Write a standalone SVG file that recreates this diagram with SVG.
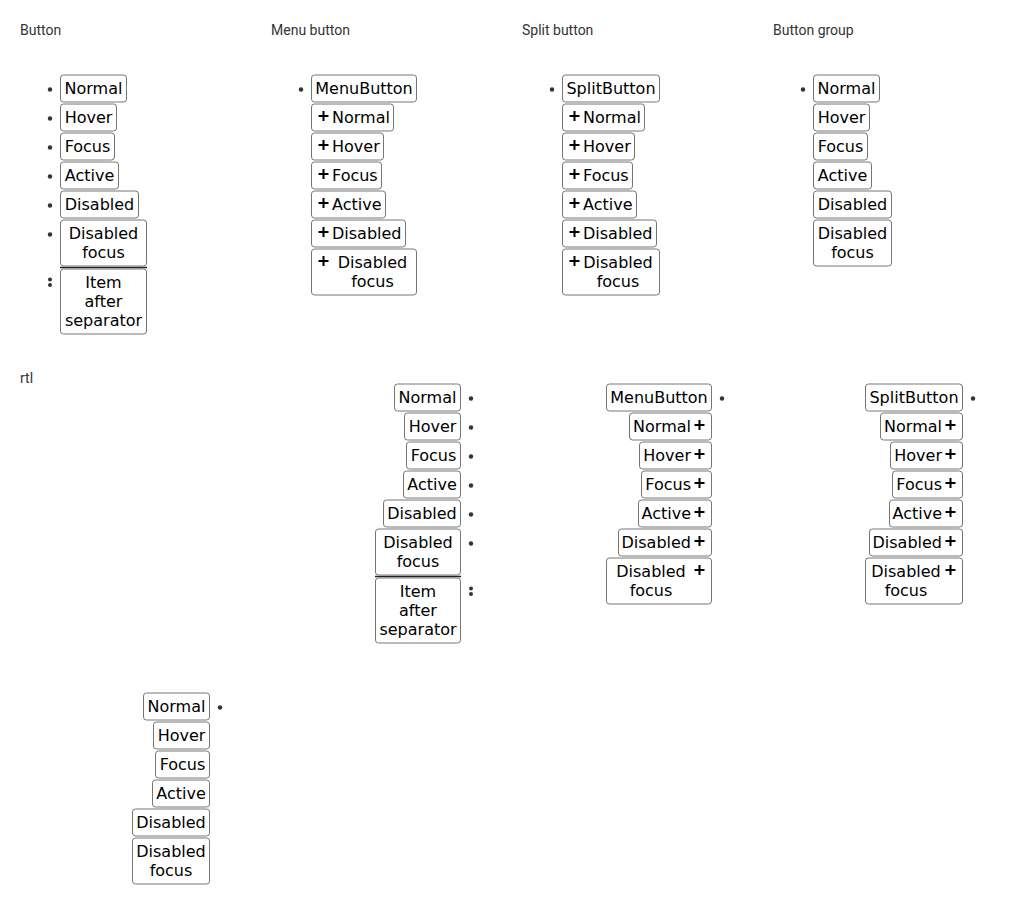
<svg xmlns="http://www.w3.org/2000/svg" xmlns:xlink="http://www.w3.org/1999/xlink" width="1024" height="919" viewBox="0 0 1024 919">
<style>
.h{font-family:Roboto,"Liberation Sans",sans-serif;font-size:14px;fill:#333}
.n rect{fill:#fff;stroke:#767676;stroke-width:1}
.t{font-family:"DejaVu Sans",sans-serif;font-size:16px;fill:#000;text-anchor:middle}
.ts{font-family:"DejaVu Sans",sans-serif;font-size:16px;fill:#000;text-anchor:start}
.te{font-family:"DejaVu Sans",sans-serif;font-size:16px;fill:#000;text-anchor:end}
.dot{fill:#333}
.sep{stroke:#222;stroke-width:1.6}
</style>
<defs>
<path id="plus" d="M-5 0H5M0 -5V5" stroke="#000" stroke-width="2" fill="none"/>
<circle id="b" r="2.2" class="dot"/>
<circle id="b2" r="2" class="dot"/>
</defs>
<rect width="1024" height="919" fill="#fff"/>

<g id="headings">
<text class="h" x="20" y="35">Button</text>
<text class="h" x="271" y="35">Menu button</text>
<text class="h" x="522" y="35">Split button</text>
<text class="h" x="773" y="35">Button group</text>
<text class="h" x="20" y="383">rtl</text>
</g>

<g id="bullets">
<use href="#b" x="50" y="89.5"/><use href="#b" x="50" y="118.5"/><use href="#b" x="50" y="147.5"/>
<use href="#b" x="50" y="176.5"/><use href="#b" x="50" y="205.5"/><use href="#b" x="50" y="234.5"/>
<use href="#b2" x="50" y="279.5"/><use href="#b2" x="50" y="285"/>
<use href="#b" x="301" y="89.5"/>
<use href="#b" x="552" y="89.5"/>
<use href="#b" x="803" y="89.5"/>
<use href="#b" x="471" y="398.5"/><use href="#b" x="471" y="427.5"/><use href="#b" x="471" y="456.5"/>
<use href="#b" x="471" y="485.5"/><use href="#b" x="471" y="514.5"/><use href="#b" x="471" y="543.5"/>
<use href="#b2" x="471" y="588.5"/><use href="#b2" x="471" y="594"/>
<use href="#b" x="722" y="398.5"/>
<use href="#b" x="973" y="398.5"/>
<use href="#b" x="220" y="707.5"/>
</g>

<g id="connectors">
<line class="sep" x1="60" y1="267.5" x2="147" y2="267.5"/>
<line class="sep" x1="375" y1="576.5" x2="461" y2="576.5"/>
</g>

<!-- Button column -->
<g id="btn-normal" class="n"><rect x="60.5" y="75" width="66" height="27" rx="3"/><text class="t" x="93.5" y="94">Normal</text></g>
<g id="btn-hover" class="n"><rect x="60.5" y="104" width="56" height="27" rx="3"/><text class="t" x="88.5" y="123">Hover</text></g>
<g id="btn-focus" class="n"><rect x="60.5" y="133" width="54" height="27" rx="3"/><text class="t" x="87.5" y="152">Focus</text></g>
<g id="btn-active" class="n"><rect x="60.5" y="162" width="58" height="27" rx="3"/><text class="t" x="89.5" y="181">Active</text></g>
<g id="btn-disabled" class="n"><rect x="60.5" y="191" width="78" height="27" rx="3"/><text class="t" x="99.5" y="210">Disabled</text></g>
<g id="btn-disabled-focus" class="n"><rect x="60.5" y="220" width="86" height="46" rx="3"/><text class="t" x="103.5" y="239">Disabled</text><text class="t" x="103.5" y="258">focus</text></g>
<g id="btn-item-after-sep" class="n"><rect x="60.5" y="269" width="86" height="65" rx="3"/><text class="t" x="103.5" y="288">Item</text><text class="t" x="103.5" y="307">after</text><text class="t" x="103.5" y="326">separator</text></g>

<!-- Menu button column -->
<g id="mb-main" class="n"><rect x="311.5" y="75" width="105" height="27" rx="3"/><text class="t" x="364" y="94">MenuButton</text></g>
<g id="mb-normal" class="n"><rect x="311.5" y="104" width="82" height="27" rx="3"/><use href="#plus" x="323.5" y="116"/><text class="ts" x="332" y="123">Normal</text></g>
<g id="mb-hover" class="n"><rect x="311.5" y="133" width="72" height="27" rx="3"/><use href="#plus" x="323.5" y="145"/><text class="ts" x="332" y="152">Hover</text></g>
<g id="mb-focus" class="n"><rect x="311.5" y="162" width="70" height="27" rx="3"/><use href="#plus" x="323.5" y="174"/><text class="ts" x="332" y="181">Focus</text></g>
<g id="mb-active" class="n"><rect x="311.5" y="191" width="74" height="27" rx="3"/><use href="#plus" x="323.5" y="203"/><text class="ts" x="332" y="210">Active</text></g>
<g id="mb-disabled" class="n"><rect x="311.5" y="220" width="94" height="27" rx="3"/><use href="#plus" x="323.5" y="232"/><text class="ts" x="332" y="239">Disabled</text></g>
<g id="mb-disabled-focus" class="n"><rect x="311.5" y="249" width="105" height="46" rx="3"/><use href="#plus" x="323.5" y="261"/><text class="t" x="372.5" y="268">Disabled</text><text class="t" x="372.5" y="287">focus</text></g>

<!-- Split button column -->
<g id="sb-main" class="n"><rect x="562.5" y="75" width="97" height="27" rx="3"/><text class="t" x="611" y="94">SplitButton</text></g>
<g id="sb-normal" class="n"><rect x="562.5" y="104" width="82" height="27" rx="3"/><use href="#plus" x="574.5" y="116"/><text class="ts" x="583" y="123">Normal</text></g>
<g id="sb-hover" class="n"><rect x="562.5" y="133" width="72" height="27" rx="3"/><use href="#plus" x="574.5" y="145"/><text class="ts" x="583" y="152">Hover</text></g>
<g id="sb-focus" class="n"><rect x="562.5" y="162" width="70" height="27" rx="3"/><use href="#plus" x="574.5" y="174"/><text class="ts" x="583" y="181">Focus</text></g>
<g id="sb-active" class="n"><rect x="562.5" y="191" width="74" height="27" rx="3"/><use href="#plus" x="574.5" y="203"/><text class="ts" x="583" y="210">Active</text></g>
<g id="sb-disabled" class="n"><rect x="562.5" y="220" width="94" height="27" rx="3"/><use href="#plus" x="574.5" y="232"/><text class="ts" x="583" y="239">Disabled</text></g>
<g id="sb-disabled-focus" class="n"><rect x="562.5" y="249" width="97" height="46" rx="3"/><use href="#plus" x="574.5" y="261"/><text class="t" x="618" y="268">Disabled</text><text class="t" x="618" y="287">focus</text></g>

<!-- Button group column -->
<g id="bg-normal" class="n"><rect x="813.5" y="75" width="66" height="27" rx="3"/><text class="t" x="846.5" y="94">Normal</text></g>
<g id="bg-hover" class="n"><rect x="813.5" y="104" width="56" height="27" rx="3"/><text class="t" x="841.5" y="123">Hover</text></g>
<g id="bg-focus" class="n"><rect x="813.5" y="133" width="54" height="27" rx="3"/><text class="t" x="840.5" y="152">Focus</text></g>
<g id="bg-active" class="n"><rect x="813.5" y="162" width="58" height="27" rx="3"/><text class="t" x="842.5" y="181">Active</text></g>
<g id="bg-disabled" class="n"><rect x="813.5" y="191" width="78" height="27" rx="3"/><text class="t" x="852.5" y="210">Disabled</text></g>
<g id="bg-disabled-focus" class="n"><rect x="813.5" y="220" width="78" height="46" rx="3"/><text class="t" x="852.5" y="239">Disabled</text><text class="t" x="852.5" y="258">focus</text></g>

<!-- RTL Button -->
<g id="rtl-btn-normal" class="n"><rect x="394.5" y="384" width="66" height="27" rx="3"/><text class="t" x="427.5" y="403">Normal</text></g>
<g id="rtl-btn-hover" class="n"><rect x="404.5" y="413" width="56" height="27" rx="3"/><text class="t" x="432.5" y="432">Hover</text></g>
<g id="rtl-btn-focus" class="n"><rect x="406.5" y="442" width="54" height="27" rx="3"/><text class="t" x="433.5" y="461">Focus</text></g>
<g id="rtl-btn-active" class="n"><rect x="403.5" y="471" width="57" height="27" rx="3"/><text class="t" x="432" y="490">Active</text></g>
<g id="rtl-btn-disabled" class="n"><rect x="383.5" y="500" width="77" height="27" rx="3"/><text class="t" x="422" y="519">Disabled</text></g>
<g id="rtl-btn-disabled-focus" class="n"><rect x="375.5" y="529" width="85" height="46" rx="3"/><text class="t" x="418" y="548">Disabled</text><text class="t" x="418" y="567">focus</text></g>
<g id="rtl-btn-item-after-sep" class="n"><rect x="375.5" y="578" width="85" height="65" rx="3"/><text class="t" x="418" y="597">Item</text><text class="t" x="418" y="616">after</text><text class="t" x="418" y="635">separator</text></g>

<!-- RTL Menu button -->
<g id="rtl-mb-main" class="n"><rect x="606.5" y="384" width="105" height="27" rx="3"/><text class="t" x="659" y="403">MenuButton</text></g>
<g id="rtl-mb-normal" class="n"><rect x="629.5" y="413" width="82" height="27" rx="3"/><use href="#plus" x="699.5" y="425"/><text class="te" x="691" y="432">Normal</text></g>
<g id="rtl-mb-hover" class="n"><rect x="639.5" y="442" width="72" height="27" rx="3"/><use href="#plus" x="699.5" y="454"/><text class="te" x="691" y="461">Hover</text></g>
<g id="rtl-mb-focus" class="n"><rect x="641.5" y="471" width="70" height="27" rx="3"/><use href="#plus" x="699.5" y="483"/><text class="te" x="691" y="490">Focus</text></g>
<g id="rtl-mb-active" class="n"><rect x="638.5" y="500" width="73" height="27" rx="3"/><use href="#plus" x="699.5" y="512"/><text class="te" x="691" y="519">Active</text></g>
<g id="rtl-mb-disabled" class="n"><rect x="618.5" y="529" width="93" height="27" rx="3"/><use href="#plus" x="699.5" y="541"/><text class="te" x="691" y="548">Disabled</text></g>
<g id="rtl-mb-disabled-focus" class="n"><rect x="606.5" y="558" width="105" height="46" rx="3"/><use href="#plus" x="699.5" y="570"/><text class="t" x="651" y="577">Disabled</text><text class="t" x="651" y="596">focus</text></g>

<!-- RTL Split button -->
<g id="rtl-sb-main" class="n"><rect x="865.5" y="384" width="97" height="27" rx="3"/><text class="t" x="914" y="403">SplitButton</text></g>
<g id="rtl-sb-normal" class="n"><rect x="880.5" y="413" width="82" height="27" rx="3"/><use href="#plus" x="950.5" y="425"/><text class="te" x="942" y="432">Normal</text></g>
<g id="rtl-sb-hover" class="n"><rect x="890.5" y="442" width="72" height="27" rx="3"/><use href="#plus" x="950.5" y="454"/><text class="te" x="942" y="461">Hover</text></g>
<g id="rtl-sb-focus" class="n"><rect x="892.5" y="471" width="70" height="27" rx="3"/><use href="#plus" x="950.5" y="483"/><text class="te" x="942" y="490">Focus</text></g>
<g id="rtl-sb-active" class="n"><rect x="889.5" y="500" width="73" height="27" rx="3"/><use href="#plus" x="950.5" y="512"/><text class="te" x="942" y="519">Active</text></g>
<g id="rtl-sb-disabled" class="n"><rect x="869.5" y="529" width="93" height="27" rx="3"/><use href="#plus" x="950.5" y="541"/><text class="te" x="942" y="548">Disabled</text></g>
<g id="rtl-sb-disabled-focus" class="n"><rect x="865.5" y="558" width="97" height="46" rx="3"/><use href="#plus" x="950.5" y="570"/><text class="t" x="906" y="577">Disabled</text><text class="t" x="906" y="596">focus</text></g>

<!-- RTL Button group -->
<g id="rtl-bg-normal" class="n"><rect x="143.5" y="693" width="66" height="27" rx="3"/><text class="t" x="176.5" y="712">Normal</text></g>
<g id="rtl-bg-hover" class="n"><rect x="153.5" y="722" width="56" height="27" rx="3"/><text class="t" x="181.5" y="741">Hover</text></g>
<g id="rtl-bg-focus" class="n"><rect x="155.5" y="751" width="54" height="27" rx="3"/><text class="t" x="182.5" y="770">Focus</text></g>
<g id="rtl-bg-active" class="n"><rect x="152.5" y="780" width="57" height="27" rx="3"/><text class="t" x="181" y="799">Active</text></g>
<g id="rtl-bg-disabled" class="n"><rect x="132.5" y="809" width="77" height="27" rx="3"/><text class="t" x="171" y="828">Disabled</text></g>
<g id="rtl-bg-disabled-focus" class="n"><rect x="132.5" y="838" width="77" height="46" rx="3"/><text class="t" x="171" y="857">Disabled</text><text class="t" x="171" y="876">focus</text></g>
</svg>
